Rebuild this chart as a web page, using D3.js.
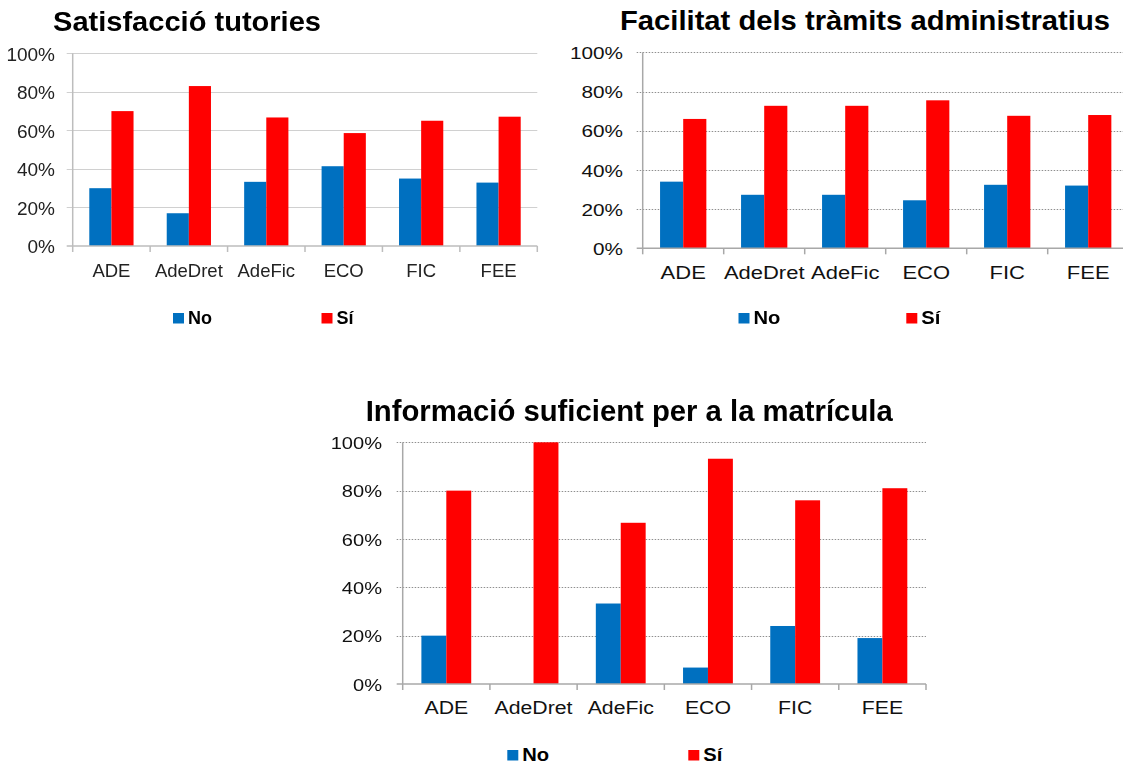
<!DOCTYPE html>
<html>
<head>
<meta charset="utf-8">
<script src="https://cdn.jsdelivr.net/npm/d3@7"></script>
<style>
  html, body { margin: 0; padding: 0; background: #fff; }
  svg { display: block; }
  text { font-family: "Liberation Sans", Arial, sans-serif; }
</style>
</head>
<body>
<svg id="chart" width="1123" height="766"></svg>
<script>
// Survey answers per degree (percent of respondents)
const categories = ["ADE", "AdeDret", "AdeFic", "ECO", "FIC", "FEE"];
const seriesNames = ["No", "Sí"];
const seriesColors = ["#0070C0", "#FF0000"];
const yTicks = [0, 20, 40, 60, 80, 100];

const tutoriesTitle = "Satisfacció tutories";
const tutoriesNo = [30, 17, 33.3, 41.4, 35, 32.9];
const tutoriesSi = [70, 83, 66.7, 58.6, 65, 67.1];

const tramitsTitle = "Facilitat dels tràmits administratius";
const tramitsNo = [34, 27.3, 27.3, 24.5, 32.4, 32];
const tramitsSi = [66, 72.7, 72.7, 75.5, 67.6, 68];

const matriculaTitle = "Informació suficient per a la matrícula";
const matriculaNo = [20, 0, 33.3, 6.8, 24, 19];
const matriculaSi = [80, 100, 66.7, 93.2, 76, 81];

const svg = d3.select("#chart");

// soft look for the first panel
const defs = svg.append("defs");
defs.append("filter").attr("id", "soft")
  .attr("x", "-5%").attr("y", "-5%").attr("width", "110%").attr("height", "110%")
  .append("feGaussianBlur").attr("stdDeviation", 0.55);

function stretchText(sel, factor) {
  if (factor === 1) return;
  sel.each(function () {
    const w = this.getComputedTextLength();
    d3.select(this).attr("textLength", w * factor).attr("lengthAdjust", "spacingAndGlyphs");
  });
}

function drawPanel(cfg) {
  const g = svg.append("g");
  if (cfg.soft) g.attr("filter", "url(#soft)");

  const x = d3.scaleBand().domain(categories).range([cfg.x0, cfg.x1]).paddingInner(0).paddingOuter(0);
  const xs = d3.scaleBand().domain(seriesNames).range([0, x.bandwidth()]).paddingInner(0).paddingOuter(0.75);
  const y = d3.scaleLinear().domain([0, 100]).range([cfg.yBottom, cfg.yTop]);

  // title
  g.append("text")
    .attr("x", cfg.titleX).attr("y", cfg.titleY)
    .attr("font-size", cfg.titleSize).attr("font-weight", "bold").attr("fill", "#000")
    .attr("textLength", cfg.titleLen).attr("lengthAdjust", "spacingAndGlyphs")
    .text(cfg.title);

  // horizontal gridlines
  g.append("g").selectAll("line").data(yTicks.filter(d => d > 0)).join("line")
    .attr("x1", cfg.x0 - 6).attr("x2", cfg.gridEnd)
    .attr("y1", d => Math.round(y(d)) + 0.5).attr("y2", d => Math.round(y(d)) + 0.5)
    .attr("stroke", cfg.gridColor).attr("stroke-width", 1)
    .attr("stroke-dasharray", cfg.gridDash);

  // bars
  const values = [cfg.no, cfg.si];
  seriesNames.forEach((s, si) => {
    g.append("g").selectAll("rect").data(categories).join("rect")
      .attr("x", c => x(c) + xs(s))
      .attr("width", xs.bandwidth())
      .attr("y", (c, i) => y(values[si][i]))
      .attr("height", (c, i) => y(0) - y(values[si][i]))
      .attr("fill", seriesColors[si]);
  });

  // y axis line
  g.append("line")
    .attr("x1", cfg.x0).attr("x2", cfg.x0)
    .attr("y1", cfg.yTop).attr("y2", cfg.yBottom + 6)
    .attr("stroke", cfg.axisColor).attr("stroke-width", cfg.axisWidth);

  // x axis line and category boundary ticks
  g.append("line")
    .attr("x1", cfg.x0 - 6).attr("x2", cfg.gridEnd)
    .attr("y1", y(0)).attr("y2", y(0))
    .attr("stroke", cfg.axisColor).attr("stroke-width", cfg.axisWidth);
  g.append("g").selectAll("line").data(categories.slice(1).map(c => x(c)).concat([cfg.x1])).join("line")
    .attr("x1", d => d).attr("x2", d => d)
    .attr("y1", y(0)).attr("y2", y(0) + 6)
    .attr("stroke", cfg.axisColor).attr("stroke-width", cfg.axisWidth);

  // y tick labels
  const yAxis = g.append("g")
    .attr("transform", `translate(${cfg.yLabelRight},0)`)
    .call(d3.axisLeft(y).tickValues(yTicks).tickFormat(d => d + "%").tickSize(0).tickPadding(0));
  yAxis.select(".domain").remove();
  yAxis.selectAll("text")
    .attr("font-size", cfg.labelSize).attr("fill", cfg.textColor)
    .attr("font-family", null).attr("dy", "0.36em");
  stretchText(yAxis.selectAll("text"), cfg.stretch);

  // category labels
  const xAxis = g.append("g")
    .attr("transform", `translate(0,${cfg.catBaseline})`)
    .call(d3.axisBottom(x).tickSize(0).tickPadding(0));
  xAxis.select(".domain").remove();
  xAxis.selectAll("text")
    .attr("y", 0).attr("dy", 0)
    .attr("font-size", cfg.catSize).attr("fill", cfg.textColor)
    .attr("font-family", null);
  stretchText(xAxis.selectAll("text"), cfg.stretch);

  // legend
  const leg = g.append("g");
  seriesNames.forEach((s, si) => {
    const lx = cfg.legendX[si];
    leg.append("rect")
      .attr("x", lx).attr("y", cfg.legendY - 11)
      .attr("width", 11).attr("height", 10.5)
      .attr("fill", seriesColors[si]);
    const t = leg.append("text")
      .attr("x", lx + 15).attr("y", cfg.legendY)
      .attr("font-size", 18).attr("font-weight", "bold").attr("fill", "#000")
      .text(s);
    stretchText(t, cfg.legendStretch);
  });
}

drawPanel({
  title: tutoriesTitle, no: tutoriesNo, si: tutoriesSi,
  x0: 72.7, x1: 537.3, gridEnd: 537.3, yTop: 53.3, yBottom: 246,
  titleX: 53, titleY: 30.5, titleSize: 27, titleLen: 268,
  gridColor: "#d0d0d0", gridDash: null, axisColor: "#bdbdbd", axisWidth: 1.5,
  yLabelRight: 55, labelSize: 19, catSize: 18.5, catBaseline: 277,
  textColor: "#222", stretch: 1, legendStretch: 1,
  legendX: [173, 321.5], legendY: 324, soft: true
});

drawPanel({
  title: tramitsTitle, no: tramitsNo, si: tramitsSi,
  x0: 642.7, x1: 1128.7, gridEnd: 1123, yTop: 52.3, yBottom: 248.3,
  titleX: 620, titleY: 30, titleSize: 27, titleLen: 490,
  gridColor: "#8f8f8f", gridDash: "1.5,1.5", axisColor: "#a8a8a8", axisWidth: 1.5,
  yLabelRight: 623, labelSize: 17, catSize: 18, catBaseline: 278.5,
  textColor: "#111", stretch: 1.22, legendStretch: 1.12,
  legendX: [738.5, 906.3], legendY: 324, soft: false
});

drawPanel({
  title: matriculaTitle, no: matriculaNo, si: matriculaSi,
  x0: 402.7, x1: 926, gridEnd: 926, yTop: 442.3, yBottom: 684,
  titleX: 365.7, titleY: 420.7, titleSize: 30, titleLen: 527,
  gridColor: "#8f8f8f", gridDash: "1.5,1.5", axisColor: "#a8a8a8", axisWidth: 1.5,
  yLabelRight: 382, labelSize: 17, catSize: 18, catBaseline: 713.5,
  textColor: "#111", stretch: 1.18, legendStretch: 1.12,
  legendX: [507.3, 688.3], legendY: 761, soft: false
});
</script>
</body>
</html>
